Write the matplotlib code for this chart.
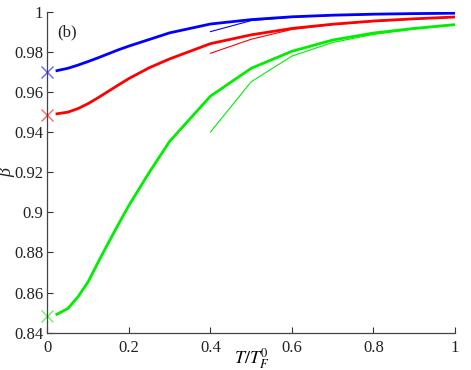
import matplotlib
matplotlib.use("Agg")
import matplotlib.pyplot as plt
from matplotlib.ticker import FuncFormatter

plt.rcParams['font.family'] = ['Liberation Serif', 'DejaVu Serif']
plt.rcParams['mathtext.fontset'] = 'stix'

# thick curves
t_thick = [0.02, 0.05, 0.075, 0.1, 0.125, 0.15, 0.175, 0.2, 0.25, 0.3, 0.4, 0.5, 0.6, 0.7, 0.8, 0.9, 1.0]
blue_thick = [0.9706, 0.9719, 0.9735, 0.9753, 0.9772, 0.9792, 0.9812, 0.9830, 0.9863, 0.9896,
              0.9940, 0.9962, 0.9976, 0.9984, 0.9989, 0.9992, 0.9994]
red_thick = [0.9491, 0.9500, 0.9518, 0.9543, 0.9573, 0.9605, 0.9637, 0.9668, 0.9722, 0.9766,
             0.9842, 0.9886, 0.9918, 0.9939, 0.9955, 0.9966, 0.9975]
green_thick = [0.8488, 0.8520, 0.8579, 0.8654, 0.8754, 0.8850, 0.8944, 0.9035, 0.9200, 0.9355,
               0.9580, 0.9719, 0.9804, 0.9860, 0.9895, 0.9918, 0.9937]

# thin curves
t_thin = [0.4, 0.5, 0.6, 0.7, 0.8, 0.9, 1.0]
blue_thin = [0.9902, 0.9957, 0.9974, 0.9983, 0.9988, 0.9991, 0.9993]
red_thin = [0.9794, 0.9864, 0.9913, 0.9937, 0.9953, 0.9965, 0.9974]
green_thin = [0.9401, 0.9652, 0.9780, 0.9848, 0.9888, 0.9915, 0.9935]

# zero-temperature markers
t_zero = [0.0, 0.0, 0.0]
beta_zero = [0.9702, 0.9485, 0.8485]

colors = ['#0000ff', '#ff0000', '#00ee00']

fig = plt.figure(figsize=(4.71, 3.70), dpi=100)
ax = fig.add_axes([0.1008, 0.1011, 0.8652, 0.8665])

for yt, yn, c in zip([blue_thick, red_thick, green_thick], [blue_thin, red_thin, green_thin], colors):
    ax.plot(t_thick, yt, color=c, lw=2.0, solid_joinstyle='round', solid_capstyle='butt')
    ax.plot(t_thin, yn, color=c, lw=0.8)

for x0, y0, c in zip(t_zero, beta_zero, colors):
    ax.plot([x0], [y0], marker='x', color=c, alpha=0.6, markersize=9, mew=1.0,
            linestyle='none', clip_on=False)

ax.set_xlim(0, 1)
ax.set_ylim(0.84, 1.0)
ax.set_xticks([0, 0.2, 0.4, 0.6, 0.8, 1.0])
ax.set_yticks([0.84, 0.86, 0.88, 0.9, 0.92, 0.94, 0.96, 0.98, 1.0])
fmt = FuncFormatter(lambda v, p: ('%g' % round(v, 4)))
ax.xaxis.set_major_formatter(fmt)
ax.yaxis.set_major_formatter(fmt)
ax.tick_params(direction='in', length=4, width=0.8, labelsize=12, colors='#333333', labelcolor='#222222')
ax.tick_params(axis='x', pad=5)
ax.tick_params(axis='y', pad=3)
for s in ['top', 'right']:
    ax.spines[s].set_visible(False)
for s in ['left', 'bottom']:
    ax.spines[s].set_color('#444444')
    ax.spines[s].set_linewidth(0.9)

ax.set_xlabel(r'$T/T_F^0$', fontsize=13)
ax.xaxis.set_label_coords(0.5, -0.042)
ax.set_ylabel('β', fontsize=13, fontstyle='italic', color='#222222')
ax.yaxis.set_label_coords(-0.078, 0.5)
ax.text(0.023, 0.990, '(b)', fontsize=12, color='#222222', ha='left', va='center')

fig.savefig('out.png', dpi=100)
